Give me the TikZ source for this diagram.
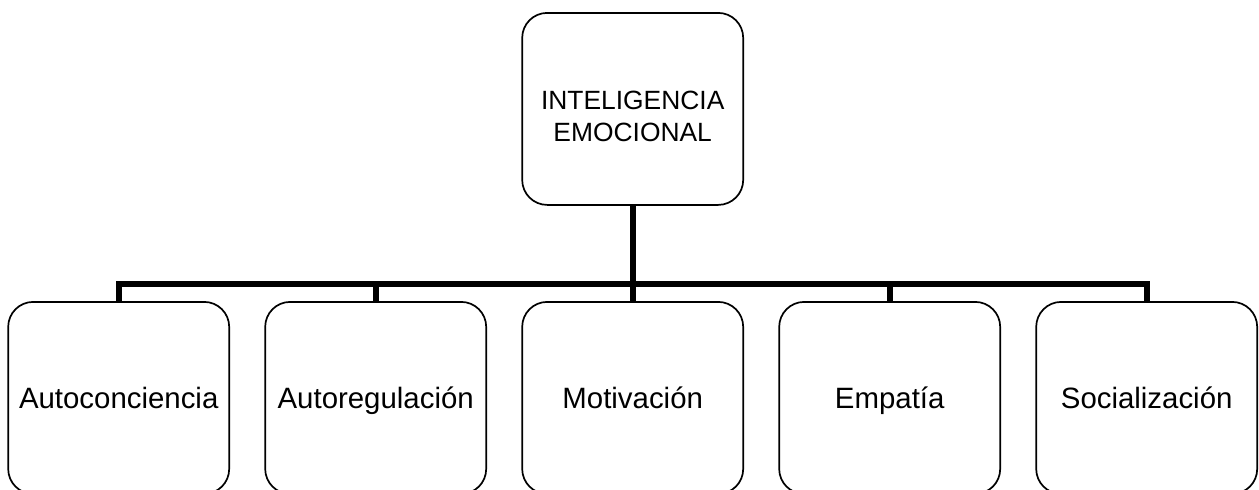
\documentclass[tikz,border=0pt]{standalone}
\usepackage{fontspec}
\setmainfont{Liberation Sans}
\usetikzlibrary{trees}

\begin{document}
\begin{tikzpicture}[
  box/.style={rectangle,draw,line width=0.85pt,rounded corners=12.5pt,
    minimum width=110.5pt,minimum height=96pt,inner sep=0pt,align=center},
  rootbox/.style={box,font=\fontsize{13.2}{16}\selectfont},
  leafbox/.style={box,font=\fontsize{14.7}{17}\selectfont,text height=10.5pt,text depth=0pt},
  level 1/.style={sibling distance=128.5pt,level distance=144.5pt},
  edge from parent/.style={draw,line width=3pt},
  edge from parent path={(\tikzparentnode.south) -- ++(0,-39pt) -| (\tikzchildnode.north)}]
    \useasboundingbox (0,0) rectangle (629.5pt,-244.5pt);
    % Root
    \node[rootbox] (emocional) at (316.35pt,-54.45pt) {\rule{0pt}{16.5pt}INTELIGENCIA\\EMOCIONAL}
    % Branches
    child {node[leafbox] (autoconciencia) {Autoconciencia}}
    child {node[leafbox] (autoregulacion) {Autoregulación}}
    child {node[leafbox] (motivacion) {Motivación}}
    child {node[leafbox] (empatia) {Empatía}}
    child {node[leafbox] (socializacion) {Socialización}};
\end{tikzpicture}
\end{document}
